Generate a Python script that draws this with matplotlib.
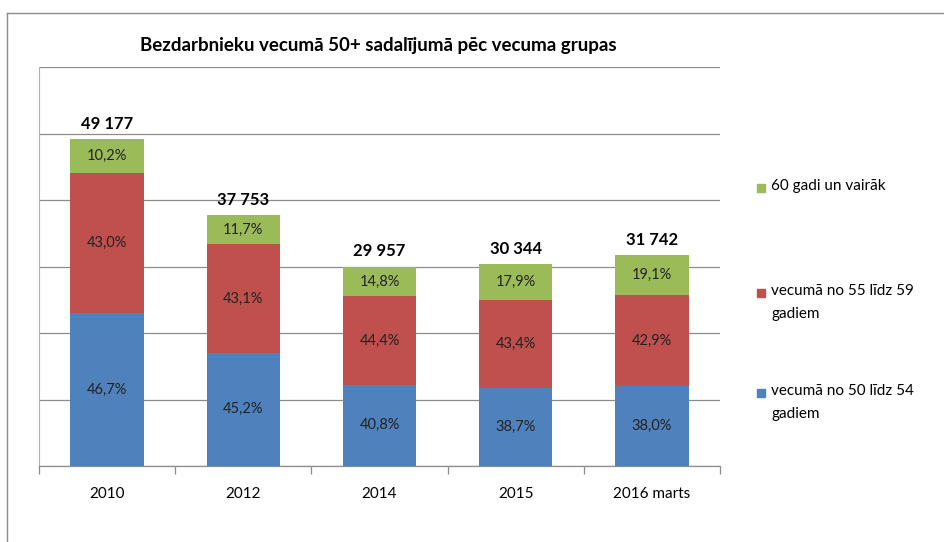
import matplotlib.pyplot as plt
import numpy as np
from matplotlib.patches import Rectangle
from matplotlib.lines import Line2D

plt.rcParams['font.family'] = ['Lato', 'DejaVu Sans']

# data
categories = ['2010', '2012', '2014', '2015', '2016 marts']
totals = [49177, 37753, 29957, 30344, 31742]
pct_50_54 = [46.7, 45.2, 40.8, 38.7, 38.0]
pct_55_59 = [43.0, 43.1, 44.4, 43.4, 42.9]
pct_60 = [10.2, 11.7, 14.8, 17.9, 19.1]
series_names = ['vecumā no 50 līdz 54\ngadiem', 'vecumā no 55 līdz 59\ngadiem', '60 gadi un vairāk']
colors = ['#4F81BD', '#C0504D', '#9BBB59']

fig = plt.figure(figsize=(9.44, 5.42), dpi=100)
ax = fig.add_axes([39 / 944, 76 / 542, 681 / 944, 399 / 542])

x = np.arange(len(categories))
tot = np.array(totals, dtype=float)
bottom = np.zeros(len(categories))
for pcts, color in zip([pct_50_54, pct_55_59, pct_60], colors):
    h = tot * np.array(pcts) / 100
    ax.bar(x, h, 0.54, bottom=bottom, color=color, zorder=3)
    for xi, b, hi, p in zip(x, bottom, h, pcts):
        ax.text(xi, b + hi / 2, f'{p:.1f}%'.replace('.', ','), ha='center', va='center',
                fontsize=10.5, color='#222222', zorder=4)
    bottom += h

# totals on top
for xi, t in zip(x, totals):
    ax.text(xi, t + 2300, f'{t:,}'.replace(',', ' '), ha='center', va='center',
            fontsize=12, fontweight='bold', zorder=4)

ax.set_xlim(-0.5, len(categories) - 0.5)
ax.set_ylim(0, 60000)
ax.set_yticks(np.arange(0, 60001, 10000))
ax.set_yticklabels([])
ax.tick_params(axis='y', length=0)
ax.grid(axis='y', color='#8C8C8C', linewidth=0.9, zorder=0)

ax.set_xticks(x)
ax.set_xticklabels(categories, fontsize=11)
ax.tick_params(axis='x', which='major', length=0, pad=15)
ax.set_xticks(np.arange(-0.5, len(categories), 1.0), minor=True)
ax.tick_params(axis='x', which='minor', length=6, color='#8C8C8C', width=0.9)

for s in ['top', 'right']:
    ax.spines[s].set_visible(False)
ax.spines['left'].set_color('#B0B0B0')
ax.spines['bottom'].set_color('#8C8C8C')
ax.spines['bottom'].set_linewidth(0.9)

fig.text(378 / 944, 1 - 45 / 542, 'Bezdarbnieku vecumā 50+ sadalījumā pēc vecuma grupas',
         ha='center', va='center', fontsize=13.5, fontweight='bold')

# legend, drawn by hand to follow the original spacing
legend_y = [393, 293, 188]
for name, color, ly in zip(series_names, colors, legend_y):
    fig.patches.append(Rectangle((757 / 944, 1 - (ly + 4) / 542), 8 / 944, 8 / 542,
                                 transform=fig.transFigure, color=color))
    fig.text(771 / 944, 1 - (ly - 9) / 542, name, ha='left', va='top', fontsize=11,
             linespacing=1.85)

# outer frame
fig.lines.append(Line2D([7 / 944, 7 / 944], [0, 1 - 13 / 542], transform=fig.transFigure,
                        color='#8C8C8C', linewidth=1))
fig.lines.append(Line2D([7 / 944, 1], [1 - 13 / 542, 1 - 13 / 542], transform=fig.transFigure,
                        color='#8C8C8C', linewidth=1))

fig.savefig('out.png', dpi=100)
